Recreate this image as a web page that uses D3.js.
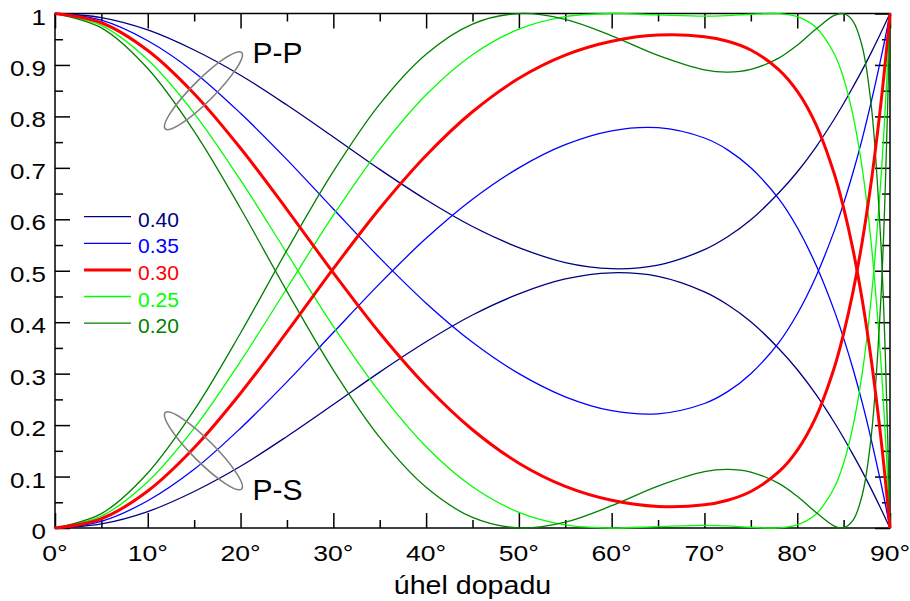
<!DOCTYPE html>
<html>
<head>
<meta charset="utf-8">
<script src="https://cdn.jsdelivr.net/npm/d3@7"></script>
<style>
body { margin: 0; background: #fff; }
text { font-family: "Liberation Sans", Arial, Helvetica, sans-serif; }
</style>
</head>
<body>
<div id="chart"></div>
<script>
const width = 910;
const height = 601;
const margin = {left: 55, right: 20, top: 13.5, bottom: 73};

// incidence angle (degrees)
const angles = [0, 5, 10, 15, 20, 25, 30, 35, 40, 45, 50, 55, 60, 65, 70, 72.5, 75, 78, 80, 82, 84, 85, 86, 87, 88, 89, 89.5, 90];

// P-P and P-S energy, one pair per Poisson ratio
const pp040 = [1, 0.992, 0.968, 0.929, 0.880, 0.822, 0.760, 0.697, 0.638, 0.586, 0.545, 0.516, 0.504, 0.511, 0.541, 0.566, 0.599, 0.651, 0.692, 0.740, 0.795, 0.825, 0.857, 0.890, 0.925, 0.962, 0.981, 1];
const ps040 = [0, 0.008, 0.032, 0.071, 0.120, 0.178, 0.240, 0.303, 0.362, 0.414, 0.455, 0.484, 0.496, 0.489, 0.459, 0.434, 0.401, 0.349, 0.308, 0.260, 0.205, 0.175, 0.143, 0.110, 0.075, 0.038, 0.019, 0];
const pp035 = [1, 0.987, 0.947, 0.886, 0.806, 0.716, 0.620, 0.525, 0.437, 0.361, 0.300, 0.255, 0.228, 0.222, 0.242, 0.265, 0.300, 0.360, 0.416, 0.488, 0.578, 0.631, 0.690, 0.756, 0.830, 0.911, 0.954, 1];
const ps035 = [0, 0.013, 0.053, 0.114, 0.194, 0.284, 0.380, 0.475, 0.563, 0.639, 0.700, 0.745, 0.772, 0.778, 0.758, 0.735, 0.700, 0.640, 0.584, 0.512, 0.422, 0.369, 0.310, 0.244, 0.170, 0.089, 0.046, 0];
const pp030 = [1, 0.982, 0.928, 0.844, 0.738, 0.619, 0.496, 0.379, 0.276, 0.191, 0.126, 0.081, 0.054, 0.042, 0.045, 0.054, 0.071, 0.109, 0.151, 0.215, 0.312, 0.378, 0.458, 0.556, 0.676, 0.822, 0.907, 1];
const ps030 = [0, 0.018, 0.072, 0.156, 0.262, 0.381, 0.504, 0.621, 0.724, 0.809, 0.874, 0.919, 0.946, 0.958, 0.955, 0.946, 0.929, 0.891, 0.849, 0.785, 0.688, 0.622, 0.542, 0.444, 0.324, 0.178, 0.093, 0];
const pp025 = [1, 0.977, 0.910, 0.806, 0.676, 0.534, 0.392, 0.264, 0.158, 0.080, 0.0305, 0.0061, 0, 0.0028, 0.0051, 0.0040, 0.0015, 0.0003, 0.0062, 0.0267, 0.0788, 0.126, 0.197, 0.300, 0.451, 0.673, 0.821, 1];
const ps025 = [0, 0.023, 0.090, 0.194, 0.324, 0.466, 0.608, 0.736, 0.842, 0.920, 0.9695, 0.9939, 1, 0.9972, 0.9949, 0.9960, 0.9985, 0.9997, 0.9938, 0.9733, 0.9212, 0.874, 0.803, 0.700, 0.549, 0.327, 0.179, 0];
const pp020 = [1, 0.972, 0.893, 0.771, 0.621, 0.460, 0.307, 0.176, 0.079, 0.0205, 0.0001, 0.0114, 0.0433, 0.0815, 0.1095, 0.1139, 0.1087, 0.0867, 0.0616, 0.0307, 0.0037, 0.0004, 0.0146, 0.0636, 0.182, 0.440, 0.666, 1];
const ps020 = [0, 0.028, 0.107, 0.229, 0.379, 0.540, 0.693, 0.824, 0.921, 0.9795, 0.9999, 0.9886, 0.9567, 0.9185, 0.8905, 0.8861, 0.8913, 0.9133, 0.9384, 0.9693, 0.9963, 0.9996, 0.9854, 0.9364, 0.818, 0.560, 0.334, 0];

const ratioLabels = ["0.40", "0.35", "0.30", "0.25", "0.20"];
const xTicks = [0, 10, 20, 30, 40, 50, 60, 70, 80, 90];
const xTickLabels = ["0°", "10°", "20°", "30°", "40°", "50°", "60°", "70°", "80°", "90°"];
const yTicks = [0, 0.1, 0.2, 0.3, 0.4, 0.5, 0.6, 0.7, 0.8, 0.9, 1];
const yTickLabels = ["0", "0.1", "0.2", "0.3", "0.4", "0.5", "0.6", "0.7", "0.8", "0.9", "1"];
const xTitle = "úhel dopadu";

const colors = ["#000080", "#0000ff", "#ff0000", "#00ff00", "#008000"];
const widths = [1.3, 1.3, 3, 1.3, 1.3];

const series = [
    {label: ratioLabels[0], pp: pp040, ps: ps040, color: colors[0], w: widths[0]},
    {label: ratioLabels[1], pp: pp035, ps: ps035, color: colors[1], w: widths[1]},
    {label: ratioLabels[2], pp: pp030, ps: ps030, color: colors[2], w: widths[2]},
    {label: ratioLabels[3], pp: pp025, ps: ps025, color: colors[3], w: widths[3]},
    {label: ratioLabels[4], pp: pp020, ps: ps020, color: colors[4], w: widths[4]}
];

const x = d3.scaleLinear().domain([0, 90]).range([margin.left, width - margin.right]);
const y = d3.scaleLinear().domain([0, 1]).range([height - margin.bottom, margin.top]);

const svg = d3.select("#chart")
    .append("svg")
    .attr("width", width)
    .attr("height", height);

const yBottom = height - margin.bottom, xRight = width - margin.right;

svg.append("clipPath")
    .attr("id", "plot-clip")
    .append("rect")
    .attr("x", margin.left - 2)
    .attr("y", margin.top - 2)
    .attr("width", xRight - margin.left + 4)
    .attr("height", yBottom - margin.top + 4);

// ticks pointing inwards on all four sides
const major = 15, minor = 8;
const xMinor = d3.range(5, 90, 10);
const yMinor = d3.range(0.05, 1, 0.1);

function tickAxis(axisFn, scale, values, size, tr) {
    svg.append("g")
        .attr("transform", tr)
        .call(axisFn(scale).tickValues(values).tickSize(size).tickFormat(""))
        .call(g => g.select(".domain").remove())
        .call(g => g.selectAll("line").attr("stroke", "#000").attr("stroke-width", 1.5));
}
tickAxis(d3.axisBottom, x, xTicks, -major, `translate(0,${yBottom})`);
tickAxis(d3.axisBottom, x, xMinor, -minor, `translate(0,${yBottom})`);
tickAxis(d3.axisTop, x, xTicks, -major, `translate(0,${margin.top})`);
tickAxis(d3.axisTop, x, xMinor, -minor, `translate(0,${margin.top})`);
tickAxis(d3.axisLeft, y, yTicks, -major, `translate(${margin.left},0)`);
tickAxis(d3.axisLeft, y, yMinor, -minor, `translate(${margin.left},0)`);
tickAxis(d3.axisRight, y, yTicks, -major, `translate(${xRight},0)`);
tickAxis(d3.axisRight, y, yMinor, -minor, `translate(${xRight},0)`);

svg.append("rect")
    .attr("x", margin.left)
    .attr("y", margin.top)
    .attr("width", xRight - margin.left)
    .attr("height", yBottom - margin.top)
    .attr("fill", "none")
    .attr("stroke", "#000")
    .attr("stroke-width", 1.5);

// tick labels (slightly wide lettering like the original)
const sx = 1.18;
svg.append("g")
    .selectAll("text")
    .data(xTicks)
    .enter()
    .append("text")
    .attr("transform", d => `translate(${x(d)},${yBottom + 32.5}) scale(${sx},1)`)
    .attr("text-anchor", "middle")
    .style("font-size", "22.5px")
    .text((d, i) => xTickLabels[i]);

svg.append("g")
    .selectAll("text")
    .data(yTicks)
    .enter()
    .append("text")
    .attr("transform", d => `translate(46,${y(d) + 11}) scale(${sx},1)`)
    .attr("text-anchor", "end")
    .style("font-size", "22px")
    .text((d, i) => yTickLabels[i]);

svg.append("text")
    .attr("transform", `translate(${(margin.left + xRight) / 2},594) scale(1.1,1)`)
    .attr("text-anchor", "middle")
    .style("font-size", "26px")
    .text(xTitle);

// curves
const line = d3.line()
    .x((d, i) => x(angles[i]))
    .y(d => y(d))
    .curve(d3.curveCatmullRom.alpha(0.5));

const curves = svg.append("g").attr("clip-path", "url(#plot-clip)");
const drawOrder = [0, 1, 3, 4, 2];
drawOrder.forEach(k => {
    const s = series[k];
    [s.pp, s.ps].forEach(vals => {
        curves.append("path")
            .datum(vals)
            .attr("d", line)
            .attr("fill", "none")
            .attr("stroke", s.color)
            .attr("stroke-width", s.w)
            .attr("stroke-linejoin", "round");
    });
});

// annotations
const ell = svg.append("g")
    .attr("fill", "none")
    .attr("stroke", "#808080")
    .attr("stroke-width", 1.6);
ell.append("ellipse")
    .attr("cx", x(16)).attr("cy", y(0.85))
    .attr("rx", 54).attr("ry", 11)
    .attr("transform", `rotate(-45 ${x(16)} ${y(0.85)})`);
ell.append("ellipse")
    .attr("cx", x(16)).attr("cy", y(0.15))
    .attr("rx", 54).attr("ry", 11)
    .attr("transform", `rotate(45 ${x(16)} ${y(0.15)})`);

svg.append("text")
    .attr("x", x(21.3)).attr("y", y(0.904))
    .style("font-size", "30px")
    .text("P-P");
svg.append("text")
    .attr("x", x(21.3)).attr("y", y(0.054))
    .style("font-size", "30px")
    .text("P-S");

// legend
const legend = svg.append("g")
    .selectAll("g")
    .data(series)
    .enter()
    .append("g")
    .attr("transform", (d, i) => `translate(84,${216.7 + i * 26.6})`);
legend.append("line")
    .attr("x1", 0).attr("x2", 47)
    .attr("stroke", d => d.color)
    .attr("stroke-width", d => d.w);
legend.append("text")
    .attr("x", 54).attr("y", 10)
    .style("font-size", "21px")
    .attr("fill", d => d.color)
    .text(d => d.label);
</script>
</body>
</html>
